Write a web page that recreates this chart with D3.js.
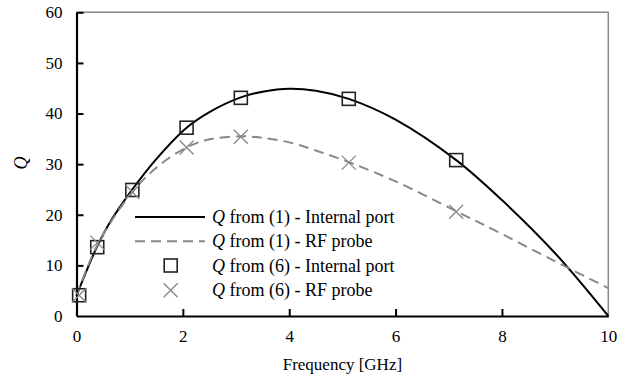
<!DOCTYPE html>
<html><head><meta charset="utf-8">
<script src="https://cdn.jsdelivr.net/npm/d3@7"></script>
<style>body{margin:0;background:#fff;font-family:'Times New Roman'}svg{display:block;font-family:'Times New Roman'}</style>
</head><body><svg id="c" width="641" height="384"></svg>
<script>
const fineFreq = [0, 0.2, 0.39, 0.6, 1.05, 1.5, 2.07, 2.5, 3.09, 3.5, 4.0, 4.5, 5.12, 6.0, 7.14, 8.0, 9.0, 10];
const qInternal = [4.0, 9.2, 13.8, 18.0, 25.0, 31.0, 37.2, 40.3, 43.2, 44.3, 44.9, 44.5, 42.9, 38.8, 30.8, 22.9, 12.4, 0];
const qProbe    = [4.0, 9.5, 14.0, 17.8, 24.5, 29.3, 33.3, 34.9, 35.5, 35.2, 34.3, 32.7, 30.4, 26.6, 20.7, 16.2, 10.8, 5.5];
const ptFreq = [0.05, 0.39, 1.05, 2.07, 3.09, 5.12, 7.14];
const ptInternal = [4.1, 13.6, 24.9, 37.2, 43.1, 42.9, 30.8];
const ptProbe = [4.1, 14.5, 24.5, 33.3, 35.4, 30.3, 20.6];
const xTicks = [0, 2, 4, 6, 8, 10];
const yTicks = [0, 10, 20, 30, 40, 50, 60];
const legendLabels = ["from (1) - Internal port", "from (1) - RF probe", "from (6) - Internal port", "from (6) - RF probe"];

const FONT = "'Times New Roman'";
const svg = d3.select("#c");
const L = 76.5, R = 608.3, T = 12.3, B = 316;
const x = d3.scaleLinear().domain([0, 10]).range([L, R]);
const y = d3.scaleLinear().domain([0, 60]).range([B, T]);

// text first
function addText(parent, s) {
  return parent.append("text").style("font-family", FONT).style("font-size", s + "px").attr("fill", "#000");
}

svg.append("path").attr("d", `M${L},${T}H${R}V${B}`).attr("fill","none").attr("stroke","#888").attr("stroke-width",1.5);

const line = d3.line().curve(d3.curveCatmullRom.alpha(0.5)).x(d => x(d[0])).y(d => y(d[1]));
svg.append("path").datum(fineFreq.map((f,i)=>[f,qInternal[i]])).attr("d", line)
  .attr("fill","none").attr("stroke","#000").attr("stroke-width",2);
svg.append("path").datum(fineFreq.map((f,i)=>[f,qProbe[i]])).attr("d", line)
  .attr("fill","none").attr("stroke","#888").attr("stroke-width",2).attr("stroke-dasharray","10,6");

const xAxis = d3.axisBottom(x).tickValues(xTicks).tickSizeInner(-7).tickSizeOuter(0).tickPadding(14);
const gx = svg.append("g").attr("transform",`translate(0,${B})`).call(xAxis);
const yAxis = d3.axisLeft(y).tickValues(yTicks).tickSizeInner(-7).tickSizeOuter(0).tickPadding(14);
const gy = svg.append("g").attr("transform",`translate(${L},0)`).call(yAxis);
[gx, gy].forEach(g => {
  g.attr("font-family", null).attr("font-size", null);
  g.select(".domain").attr("stroke","#000").attr("stroke-width",2.2);
  g.selectAll(".tick line").attr("stroke","#000").attr("stroke-width",2);
  g.selectAll(".tick text").style("font-family",FONT).style("font-size","17px").attr("fill","#000");
});
gy.selectAll(".tick").filter(d => d === 0).select("line").remove();
gx.selectAll(".tick").filter(d => d === 0 || d === 10).select("line").remove();

function square(g, cx, cy) {
  g.append("rect").attr("x",cx-6.5).attr("y",cy-6.5).attr("width",13).attr("height",13)
    .attr("fill","none").attr("stroke","#222").attr("stroke-width",1.6);
}
function cross(g, cx, cy) {
  const s = 7;
  g.append("path").attr("d",`M${cx-s},${cy-s}L${cx+s},${cy+s}M${cx-s},${cy+s}L${cx+s},${cy-s}`)
    .attr("stroke","#888").attr("stroke-width",1.3).attr("fill","none");
}
const mk = svg.append("g");
ptFreq.forEach((f,i)=>square(mk, x(f), y(ptInternal[i])));
ptFreq.forEach((f,i)=>cross(mk, x(f), y(ptProbe[i])));

const lg = svg.append("g");
const rows = [217, 241.3, 265.5, 290.3];
lg.append("line").attr("x1",135).attr("x2",205).attr("y1",rows[0]).attr("y2",rows[0]).attr("stroke","#000").attr("stroke-width",2);
lg.append("line").attr("x1",135).attr("x2",205).attr("y1",rows[1]).attr("y2",rows[1]).attr("stroke","#888").attr("stroke-width",2).attr("stroke-dasharray","10,6");
square(lg, 170.7, rows[2]);
cross(lg, 170.7, rows[3]);
legendLabels.forEach((t,i)=>{
  const tx = addText(lg, 18).attr("x",212).attr("y",rows[i]+6);
  tx.append("tspan").style("font-style","italic").text("Q");
  tx.append("tspan").text(" " + t);
});

addText(svg, 17).attr("x",(L+R)/2).attr("y",370).attr("text-anchor","middle").text("Frequency [GHz]");
addText(svg, 18).attr("transform","translate(27,163) rotate(-90)").attr("text-anchor","middle")
  .style("font-style","italic").text("Q");
</script></body></html>
